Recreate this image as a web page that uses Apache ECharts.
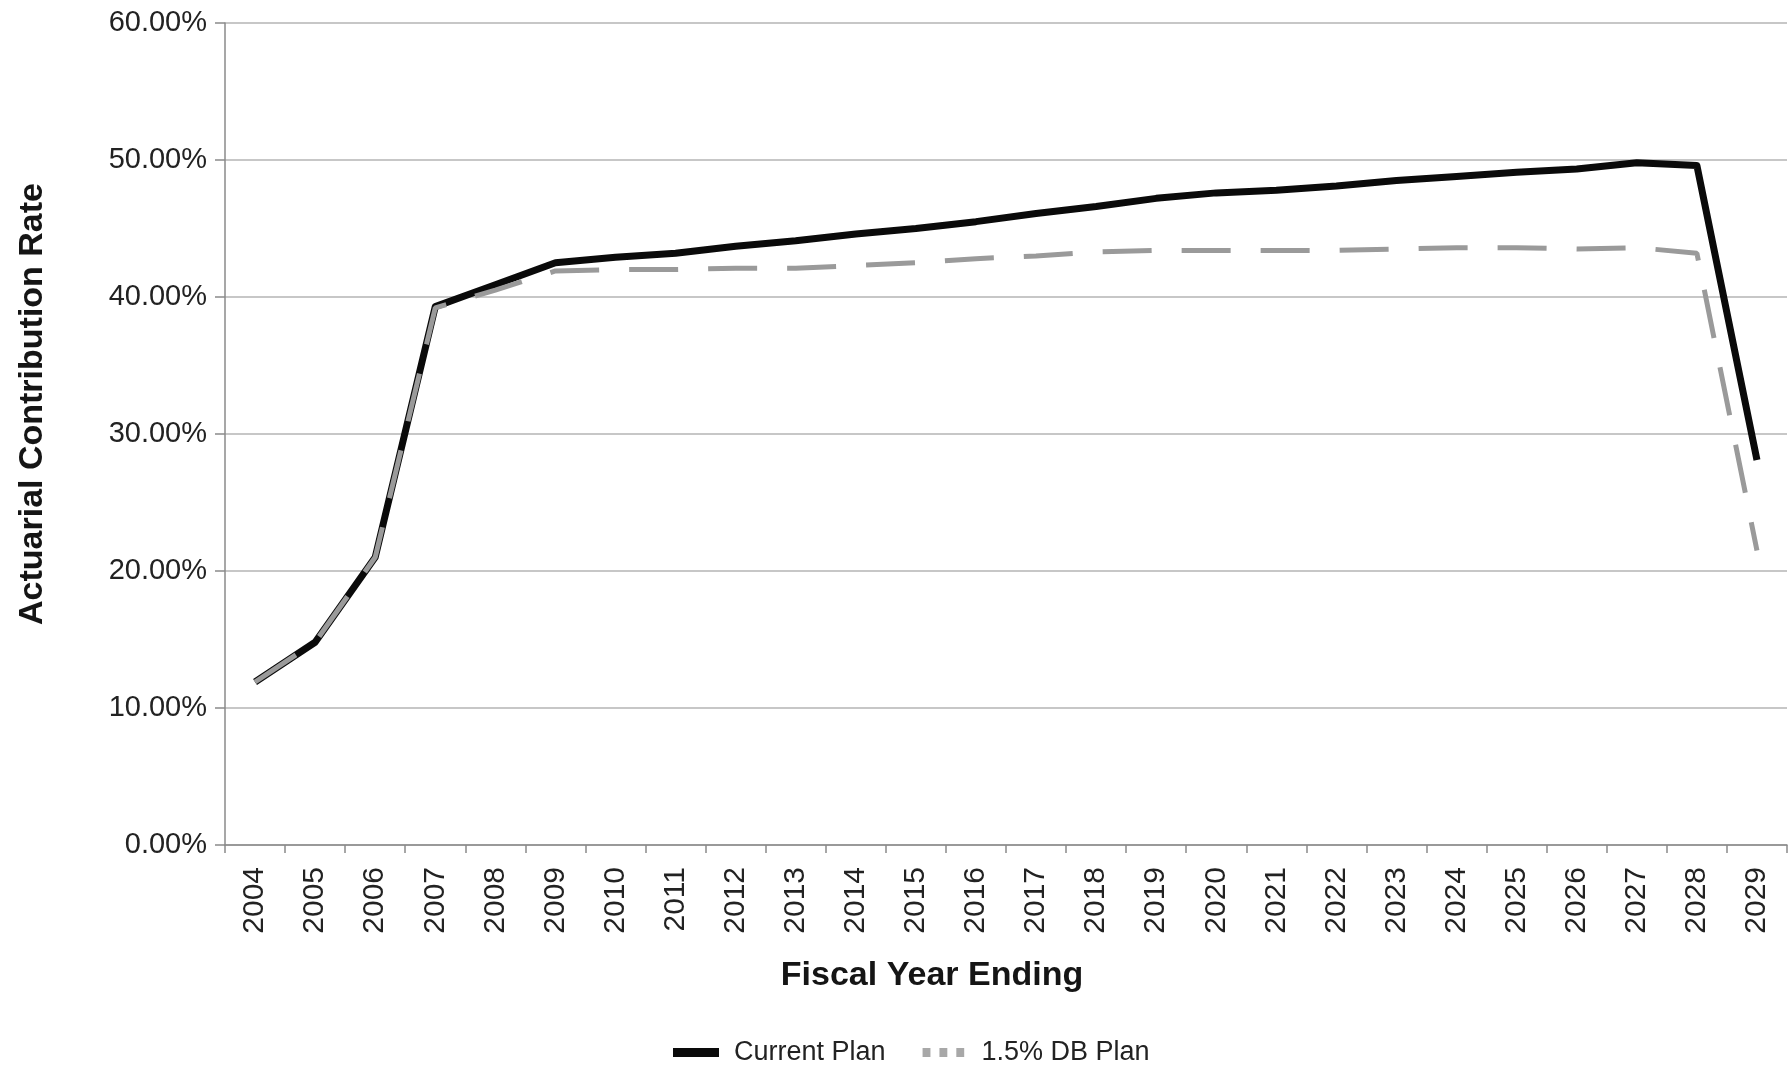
<!DOCTYPE html>
<html>
<head>
<meta charset="utf-8">
<script src="https://cdn.jsdelivr.net/npm/echarts@6/dist/echarts.min.js"></script>
<style>
html,body{margin:0;padding:0;background:#fff;}
#chart{width:1791px;height:1066px;}
</style>
</head>
<body>
<div id="chart"></div>
<script>
var years = ['2004','2005','2006','2007','2008','2009','2010','2011','2012','2013','2014','2015','2016','2017','2018','2019','2020','2021','2022','2023','2024','2025','2026','2027','2028','2029'];
var currentPlan = [11.9,14.8,21.0,39.3,40.9,42.5,42.9,43.2,43.7,44.1,44.6,45.0,45.5,46.1,46.6,47.2,47.6,47.8,48.1,48.5,48.8,49.1,49.35,49.8,49.6,28.1];
var dbPlan = [11.9,14.8,21.0,39.2,40.5,41.9,42.0,42.0,42.1,42.1,42.3,42.5,42.8,43.0,43.3,43.4,43.4,43.4,43.4,43.5,43.6,43.6,43.5,43.6,43.2,21.5];
var yTicks = [0,10,20,30,40,50,60];

var chart = echarts.init(document.getElementById('chart'));
var FONT = '"Liberation Sans", Arial, sans-serif';
chart.setOption({
  backgroundColor: '#ffffff',
  animation: false,
  grid: {left: 225, right: 4, top: 23, bottom: 221, containLabel: false},
  legend: {
    left: 668, top: 1034,
    itemWidth: 46, itemHeight: 9, itemGap: 37,
    textStyle: {fontFamily: FONT, fontSize: 27, color: '#222', padding: [0,0,0,10]},
    data: [
      {name: 'Current Plan', icon: 'rect', itemStyle: {color: '#0a0a0a'}},
      {name: '1.5% DB Plan', icon: 'path://M0,0h7v8h-7z M15,0h7v8h-7z M30,0h7v8h-7z', itemStyle: {color: '#a8a8a8'}}
    ]
  },
  xAxis: {
    type: 'category',
    data: years,
    boundaryGap: true,
    name: 'Fiscal Year Ending',
    nameLocation: 'middle',
    nameGap: 114,
    nameTextStyle: {fontFamily: FONT, fontSize: 34, fontWeight: 'bold', color: '#151515', padding: [0, 148, 0, 0]},
    axisLine: {show: true, lineStyle: {color: '#8a8a8a', width: 1.5}},
    axisTick: {show: true, length: 8, alignWithLabel: false, lineStyle: {color: '#8a8a8a', width: 1.5}},
    axisLabel: {rotate: 90, interval: 0, margin: 22, fontFamily: FONT, fontSize: 30, color: '#222'},
    splitLine: {show: false}
  },
  yAxis: {
    type: 'value',
    min: 0, max: 60, interval: 10,
    name: 'Actuarial Contribution Rate',
    nameLocation: 'middle',
    nameGap: 175,
    nameRotate: 90,
    nameTextStyle: {fontFamily: FONT, fontSize: 34, fontWeight: 'bold', color: '#151515', padding: [0, 0, 0, 60]},
    axisLine: {show: true, lineStyle: {color: '#8a8a8a', width: 1.5}},
    axisTick: {show: true, length: 10, lineStyle: {color: '#8a8a8a', width: 1.5}},
    axisLabel: {margin: 18, fontFamily: FONT, fontSize: 29, color: '#222',
      formatter: function (v) { return v.toFixed(2) + '%'; }},
    splitLine: {show: true, lineStyle: {color: '#b4b4b4', width: 1.5}}
  },
  series: [
    {
      name: 'Current Plan', type: 'line', data: currentPlan,
      symbol: 'none', smooth: false, z: 2,
      itemStyle: {color: '#0a0a0a'},
      lineStyle: {color: '#0a0a0a', width: 7, join: 'round'}
    },
    {
      name: '1.5% DB Plan', type: 'line', data: dbPlan,
      symbol: 'none', smooth: false, z: 3,
      itemStyle: {color: '#9a9a9a'},
      lineStyle: {color: '#9a9a9a', width: 5, type: [49, 30]}
    }
  ]
});
</script>
</body>
</html>
